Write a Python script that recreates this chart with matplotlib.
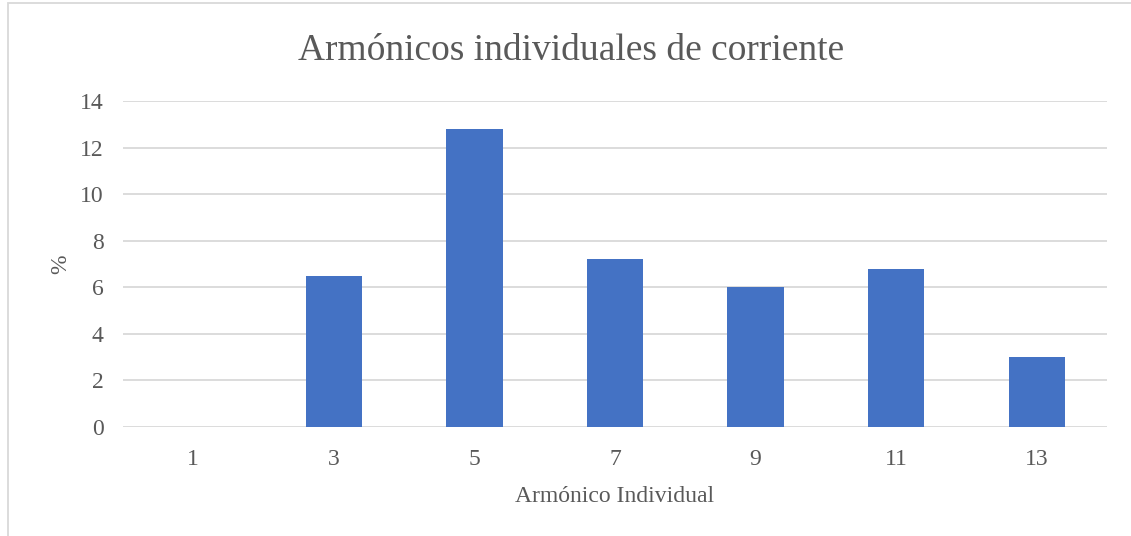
import numpy as np
import matplotlib.pyplot as plt
from matplotlib.patches import Rectangle

harmonics = ['1', '3', '5', '7', '9', '11', '13']
percent = [0, 6.5, 12.8, 7.2, 6.0, 6.8, 3.0]

plt.rcParams['font.family'] = ['Liberation Serif', 'DejaVu Serif']
txt = '#595959'

fig = plt.figure(figsize=(11.31, 5.36), dpi=100)
ax = fig.add_axes([123 / 1131, 1 - 427 / 536, (1107 - 123) / 1131, (427 - 101) / 536])

pos = np.arange(len(harmonics))
ax.bar(pos, percent, 0.4, color='#4472C4', zorder=3)

ax.set_xlim(-0.5, len(harmonics) - 0.5)
ax.set_ylim(0, 14)
ax.set_yticks(range(0, 15, 2))
ax.set_xticks(pos)
ax.set_xticklabels(harmonics)
ax.grid(axis='y', color='#d9d9d9', linewidth=1.3, zorder=0)
for s in ax.spines.values():
    s.set_visible(False)
ax.tick_params(length=0, labelsize=17, colors=txt)
ax.tick_params(axis='x', pad=16)
ax.tick_params(axis='y', pad=14)

ax.set_xlabel('Armónico Individual', fontsize=17, color=txt, labelpad=11)
ax.set_ylabel('%', fontsize=17, color=txt, labelpad=6)
fig.text(0.505, 1 - 51 / 536, 'Armónicos individuales de corriente', ha='center', va='center',
         fontsize=27, color=txt)

fig.patches.append(Rectangle((8 / 1131, -0.05), 1.1, 1.05 - 3 / 536, transform=fig.transFigure,
                             fill=False, edgecolor='#d9d9d9', linewidth=1.3))

plt.savefig('out.png')
plt.close()
